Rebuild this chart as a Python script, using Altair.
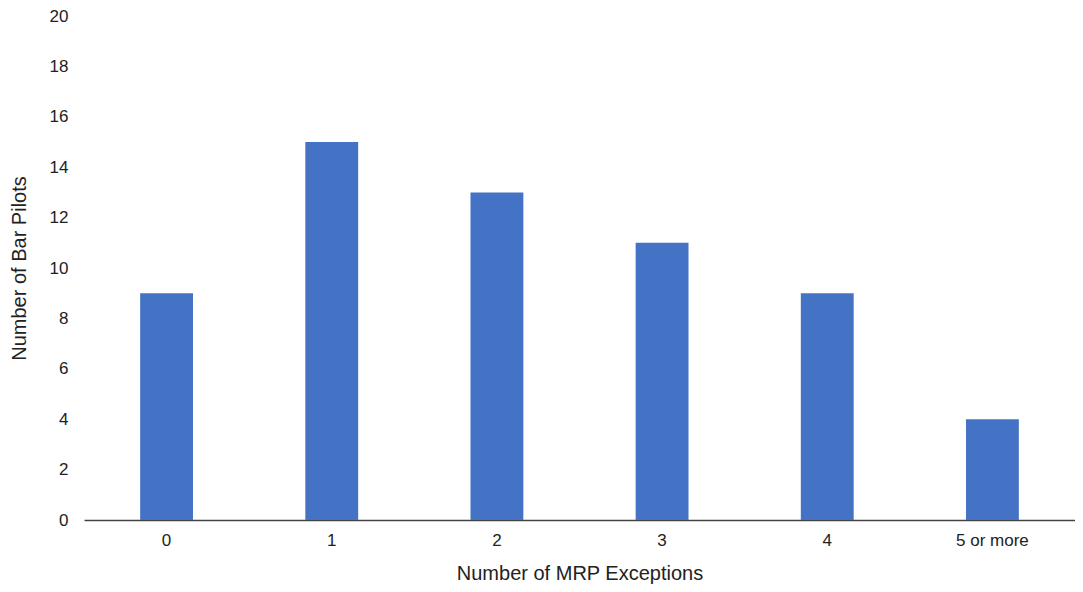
import altair as alt
import pandas as pd

categories = ["0", "1", "2", "3", "4", "5 or more"]
pilots = [9, 15, 13, 11, 9, 4]
y_ticks = [0, 2, 4, 6, 8, 10, 12, 14, 16, 18, 20]

df = pd.DataFrame({"exceptions": categories, "pilots": pilots})

font = "Liberation Sans"
text_color = "#222222"

chart = alt.Chart(df).mark_bar(color="#4472C4").encode(
    x=alt.X(
        "exceptions:N",
        sort=categories,
        title="Number of MRP Exceptions",
        scale=alt.Scale(paddingInner=0.68, paddingOuter=0.34),
        axis=alt.Axis(
            labelAngle=0,
            labelFont=font,
            labelFontSize=17,
            labelColor=text_color,
            labelPadding=12,
            ticks=False,
            domainColor="#444444",
            domainWidth=1.5,
            titleFont=font,
            titleFontSize=20,
            titleFontWeight="normal",
            titleColor=text_color,
            titlePadding=15,
        ),
    ),
    y=alt.Y(
        "pilots:Q",
        title="Number of Bar Pilots",
        scale=alt.Scale(domain=[0, 20], nice=False),
        axis=alt.Axis(
            values=y_ticks,
            grid=False,
            domain=False,
            ticks=False,
            labelFont=font,
            labelFontSize=17,
            labelColor=text_color,
            labelPadding=16,
            titleFont=font,
            titleFontSize=20,
            titleFontWeight="normal",
            titleColor=text_color,
            titlePadding=20,
        ),
    ),
).properties(
    width=991,
    height=504,
    autosize=alt.AutoSizeParams(type="none"),
    padding={"left": 76, "top": 8, "right": 0, "bottom": 64},
).configure_view(stroke=None)

chart.save("out.html", embed_options={"renderer": "svg", "actions": False})
